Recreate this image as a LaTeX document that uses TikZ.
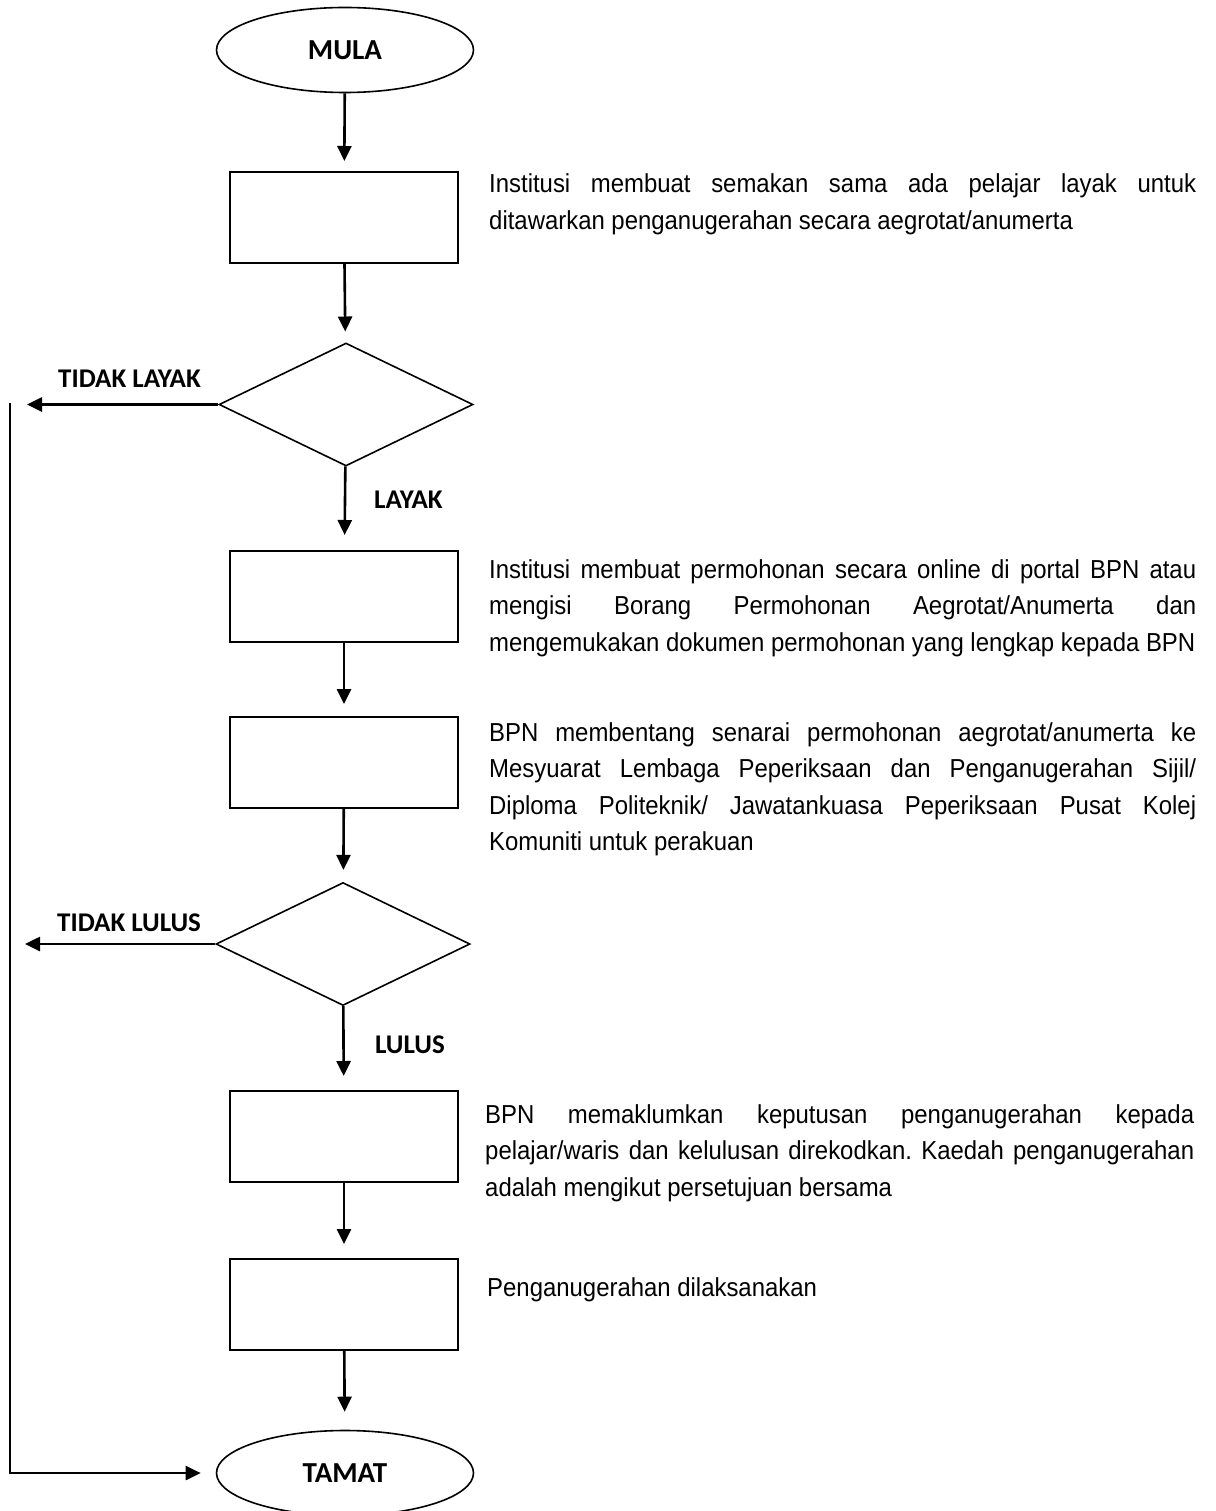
\documentclass[tikz,border=0pt]{standalone}
\usepackage{fontspec}
\setmainfont{Liberation Sans}[FakeStretch=0.92]
\newfontfamily\lblfont{Carlito}
\usetikzlibrary{shapes.geometric,arrows.meta}
\frenchspacing
\newcommand{\jl}[1]{\makebox[707pt][s]{#1}\\}
\tikzset{
  terminal/.style={ellipse,draw,line width=1.6pt,minimum width=257pt,minimum height=85pt,inner sep=0pt,font=\lblfont\bfseries\fontsize{29}{32}\selectfont},
  stepbox/.style={rectangle,draw,line width=2pt,minimum width=228pt,minimum height=91pt,inner sep=0pt},
  decide/.style={diamond,draw,line width=1.6pt,minimum width=254pt,minimum height=123pt,inner sep=0pt},
  arr/.style={line width=2.6pt,-{Triangle[length=15pt,width=14pt]}},
  lbl/.style={anchor=base west,inner sep=0pt,font=\lblfont\bfseries\fontsize{27}{30}\selectfont},
  desc/.style={anchor=base west,inner sep=0pt,font=\fontsize{26}{36.5}\selectfont}
}
\begin{document}
\begin{tikzpicture}[x=1pt,y=-1pt]
\fill[white] (0,0) rectangle (1215,1511);
\useasboundingbox (0,0) rectangle (1215,1511);
% nodes
\node[terminal] (mula) at (345,50) {MULA};
\node[stepbox] (b1) at (344,217.5) {};
\node[decide] (d1) at (346,404.5) {};
\node[stepbox] (b2) at (344,596.5) {};
\node[stepbox] (b3) at (344,762.5) {};
\node[decide] (d2) at (343,944) {};
\node[stepbox] (b4) at (344,1136.5) {};
\node[stepbox] (b5) at (344,1304.5) {};
\node[terminal] (tamat) at (345,1473) {TAMAT};
% free ends
\coordinate (l1) at (27,404.5);
\coordinate (l2) at (25,944);
\coordinate (v1) at (10,403);
\coordinate (v2) at (10,1473);
% connectors
\draw[arr,shorten >=10pt] (mula) -- (b1);
\draw[arr,shorten >=11pt] (b1) -- (d1);
\draw[arr,shorten >=15pt] (d1) -- (b2);
\draw[arr,shorten >=12pt] (b2) -- (b3);
\draw[arr,shorten >=12pt] (b3) -- (d2);
\draw[arr,shorten >=14pt] (d2) -- (b4);
\draw[arr,shorten >=14pt] (b4) -- (b5);
\draw[arr,shorten >=18pt] (b5) -- (tamat);
\draw[arr] (d1.west) -- (l1);
\draw[arr] (d2.west) -- (l2);
\draw[arr,shorten >=15pt] (v1) -- (v2) -- (tamat.west);
% labels
\node[lbl] (tl1) at (58,387) {TIDAK LAYAK};
\node[lbl] (ly) at (374,508) {LAYAK};
\node[lbl] (tl2) at (57,931) {TIDAK LULUS};
\node[lbl] (ls) at (375,1053) {LULUS};
% descriptions
\node[desc] (t1) at (489,193) {\parbox[t]{707pt}{%
\jl{Institusi membuat semakan sama ada pelajar layak untuk}
ditawarkan penganugerahan secara aegrotat/anumerta}};
\node[desc] (t2) at (489,578) {\parbox[t]{707pt}{%
\jl{Institusi membuat permohonan secara online di portal BPN atau}
\jl{mengisi Borang Permohonan Aegrotat/Anumerta dan}
mengemukakan dokumen permohonan yang lengkap kepada BPN}};
\node[desc] (t3) at (489,741) {\parbox[t]{707pt}{%
\jl{BPN membentang senarai permohonan aegrotat/anumerta ke}
\jl{Mesyuarat Lembaga Peperiksaan dan Penganugerahan Sijil/}
\jl{Diploma Politeknik/ Jawatankuasa Peperiksaan Pusat Kolej}
Komuniti untuk perakuan}};
\node[desc] (t4) at (485,1123) {\parbox[t]{709pt}{%
\makebox[709pt][s]{BPN memaklumkan keputusan penganugerahan kepada}\\
\makebox[709pt][s]{pelajar/waris dan kelulusan direkodkan. Kaedah penganugerahan}\\
adalah mengikut persetujuan bersama}};
\node[desc] (t5) at (487,1296) {Penganugerahan dilaksanakan};
\end{tikzpicture}
\end{document}
